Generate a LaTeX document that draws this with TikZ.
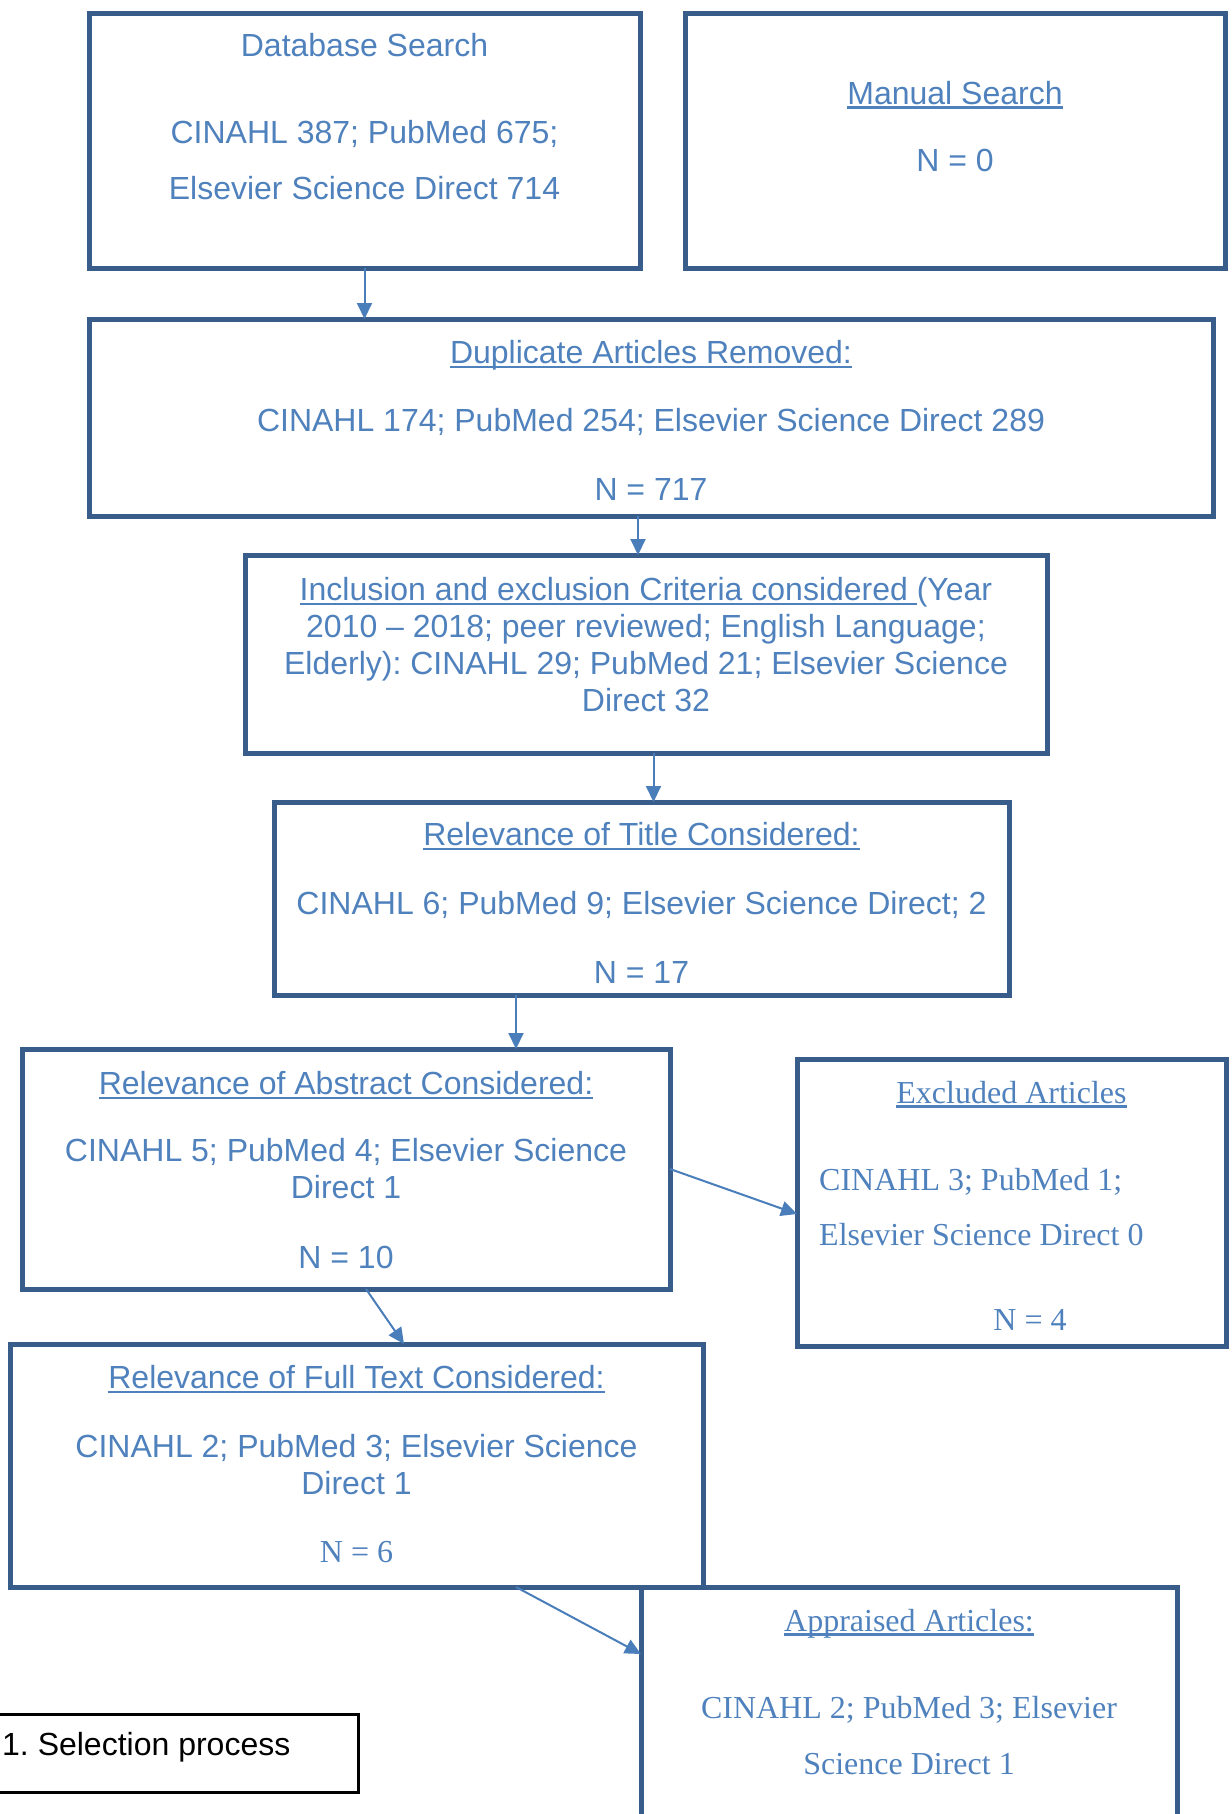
\documentclass[tikz,border=0pt]{standalone}
\usepackage{fontspec}
\setmainfont{Liberation Sans}
\newfontfamily\timesfont{Liberation Serif}
\usetikzlibrary{positioning,arrows.meta}

\definecolor{boxblue}{RGB}{56,93,138}
\definecolor{txtblue}{RGB}{79,129,189}
\definecolor{arrblue}{RGB}{74,126,187}
\newcommand{\ulined}[1]{\setbox0=\hbox{#1}\rlap{\rule[-4.5pt]{\wd0}{2.5pt}}\box0}
\frenchspacing

\begin{document}
\begin{tikzpicture}[x=1pt, y=-1pt,
    box/.style={draw=boxblue, line width=5pt, outer sep=0pt, inner sep=0pt,
                anchor=north west},
    txt/.style={text=txtblue, align=center, inner sep=0pt, anchor=north,
                font=\fontsize{32}{37}\selectfont},
    stxt/.style={txt, font=\fontsize{32}{37}\selectfont\timesfont},
    arr/.style={-{Triangle[length=16pt, width=15pt]}, line width=2pt, draw=arrblue, fill=arrblue}]
  \useasboundingbox (0,0) rectangle (1231,1814);
  \clip (0,0) rectangle (1231,1814);
  % boxes
  \node[box, minimum width=551pt, minimum height=254pt] (dbase) at (89,14) {};
  \node[box, minimum width=540pt, minimum height=254pt] (manual) at (685,14) {};
  \node[box, minimum width=1124pt, minimum height=197pt] (dupl) at (89,319) {};
  \node[box, minimum width=802pt, minimum height=198pt] (incl) at (245,555) {};
  \node[box, minimum width=735pt, minimum height=193pt] (title) at (274,802) {};
  \node[box, minimum width=648pt, minimum height=240pt] (abstr) at (22,1049) {};
  \node[box, minimum width=429pt, minimum height=287pt] (excl) at (797,1059) {};
  \node[box, minimum width=693pt, minimum height=243pt] (full) at (10,1344) {};
  \node[box, minimum width=536pt, minimum height=320pt] (appr) at (641,1587) {};
  \node[box, draw=black, line width=3pt, minimum width=368pt, minimum height=78pt] (capbox) at (-10,1714) {};
  % texts
  \node[txt, below=19.6pt of dbase.north] (dbaseTxt) {Database Search\\[49.8pt]CINAHL 387; PubMed 675;\\[18.5pt]Elsevier Science Direct 714};
  \node[txt, below=67pt of manual.north] (manualTxt) {\ulined{Manual Search}\\[30pt]N = 0};
  \node[txt, below=21.2pt of dupl.north] (duplTxt) {\ulined{Duplicate Articles Removed:}\\[31.3pt]CINAHL 174; PubMed 254; Elsevier Science Direct 289\\[31.3pt]N = 717};
  \node[txt, below=22.5pt of incl.north] (inclTxt) {\ulined{Inclusion and exclusion Criteria considered }(Year\\2010 – 2018; peer reviewed; English Language;\\Elderly): CINAHL 29; PubMed 21; Elsevier Science\\Direct 32};
  \node[txt, below=20.5pt of title.north] (titleTxt) {\ulined{Relevance of Title Considered:}\\[31.5pt]CINAHL 6; PubMed 9; Elsevier Science Direct; 2\\[32.5pt]N = 17};
  \node[txt, below=22.5pt of abstr.north] (abstrTxt) {\ulined{Relevance of Abstract Considered:}\\[30pt]CINAHL 5; PubMed 4; Elsevier Science\\Direct 1\\[32.5pt]N = 10};
  \node[stxt, below=22pt of excl.north] (exclTitle) {\ulined{Excluded Articles}};
  \node[stxt, align=left, below right=109pt and 22pt of excl.north west] (exclTxt) {CINAHL 3; PubMed 1;\\[18.5pt]Elsevier Science Direct 0};
  \node[stxt] (exclN) at (1030,1309) {N = 4};
  \node[txt, below=21.5pt of full.north] (fullTxt) {\ulined{Relevance of Full Text Considered:}\\[32pt]CINAHL 2; PubMed 3; Elsevier Science\\Direct 1\\[31pt]{\timesfont N = 6}};
  \node[stxt, below=22pt of appr.north] (apprTxt) {\ulined{Appraised Articles:}\\[49.6pt]CINAHL 2; PubMed 3; Elsevier\\[19.4pt]Science Direct 1};
  \node[font=\fontsize{32}{37}\selectfont, anchor=base west, inner sep=0pt] (capTxt) at (2,1755) {1. Selection process};
  % connectors
  \draw[arr] (dbase.south) -- (dupl.north -| dbase.south);
  \draw[arr] ([xshift=-13pt]dupl.south) -- ([xshift=-13pt]dupl.south |- incl.north);
  \draw[arr] ([xshift=7.5pt]incl.south) -- ([xshift=7.5pt]incl.south |- title.north);
  \draw[arr] ([xshift=-125.5pt]title.south) -- ([xshift=-125.5pt]title.south |- abstr.north);
  \draw[arr] (abstr.east) -- ([yshift=-11.5pt]excl.west);
  \draw[arr] ([xshift=20pt]abstr.south) -- ([xshift=47.5pt]full.north);
  \draw[arr] ([xshift=159.5pt]full.south) -- ([yshift=-67pt]appr.north west);
\end{tikzpicture}
\end{document}
